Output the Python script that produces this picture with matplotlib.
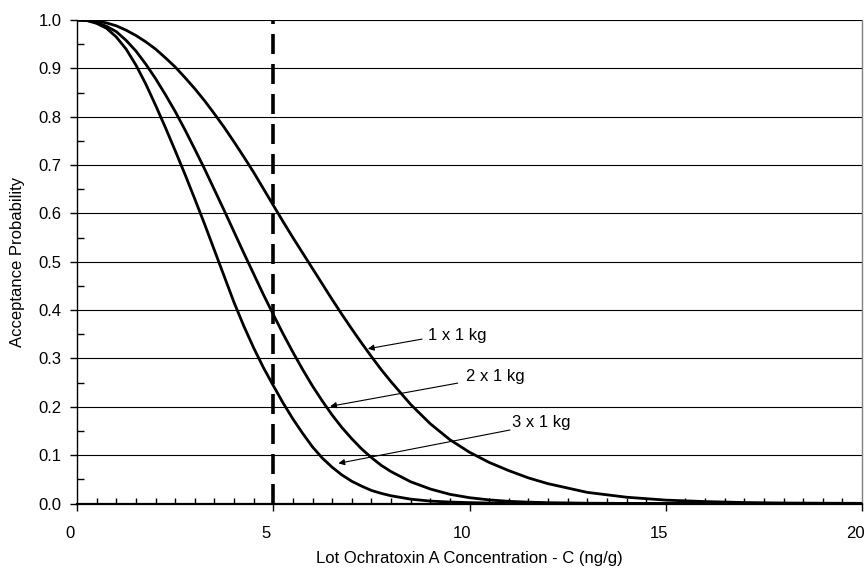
import numpy as np
import matplotlib
matplotlib.use("Agg")
import matplotlib.pyplot as plt
from matplotlib.ticker import MultipleLocator
import matplotlib.transforms as mtransforms

plt.rcParams['font.family'] = ['Liberation Sans', 'DejaVu Sans']

# ---- data ----
conc = [0, 0.25, 0.5, 0.75, 1, 1.25, 1.5, 1.75, 2, 2.25, 2.5, 2.75, 3, 3.25,
        3.5, 3.75, 4, 4.25, 4.5, 4.75, 5, 5.25, 5.5, 5.75, 6, 6.25, 6.5, 6.75,
        7, 7.25, 7.5, 7.75, 8,
        8.5, 9, 9.5, 10, 10.5, 11, 11.5, 12,
        13, 14, 15, 16, 17, 18, 19, 20]
p_1x1kg = [1.0, 0.9995, 0.998, 0.994, 0.988, 0.979, 0.968, 0.955, 0.940, 0.922,
           0.903, 0.881, 0.858, 0.833, 0.806, 0.778, 0.748, 0.717, 0.685, 0.651,
           0.617, 0.583, 0.550, 0.518, 0.486, 0.454, 0.422, 0.391, 0.361, 0.332,
           0.304, 0.277, 0.252,
           0.205, 0.165, 0.132, 0.106, 0.085, 0.068, 0.053, 0.041,
           0.023, 0.013, 0.007, 0.004, 0.002, 0.001, 0.0006, 0.0003]
p_2x1kg = [1.0, 0.999, 0.995, 0.987, 0.976, 0.958, 0.936, 0.909, 0.879, 0.846,
           0.811, 0.773, 0.733, 0.692, 0.649, 0.606, 0.562, 0.518, 0.475, 0.432,
           0.391, 0.351, 0.313, 0.277, 0.243, 0.212, 0.183, 0.157, 0.134, 0.113,
           0.095, 0.079, 0.066,
           0.045, 0.030, 0.019, 0.012, 0.0075, 0.0045, 0.0028, 0.0017,
           0.0006, 0.0002, 0.0001, 0.0, 0.0, 0.0, 0.0, 0.0]
p_3x1kg = [1.0, 0.999, 0.993, 0.983, 0.965, 0.940, 0.907, 0.868, 0.824, 0.778,
           0.730, 0.681, 0.630, 0.578, 0.524, 0.470, 0.416, 0.367, 0.322, 0.281,
           0.244, 0.208, 0.175, 0.145, 0.117, 0.094, 0.075, 0.059, 0.046, 0.036,
           0.027, 0.021, 0.016,
           0.009, 0.005, 0.003, 0.0018, 0.001, 0.0006, 0.0003, 0.0002,
           0.0, 0.0, 0.0, 0.0, 0.0, 0.0, 0.0, 0.0]
regulatory_limit = 5
series_labels = ["1 x 1 kg", "2 x 1 kg", "3 x 1 kg"]
x_ticks = [0, 5, 10, 15, 20]
y_ticks = [0.0, 0.1, 0.2, 0.3, 0.4, 0.5, 0.6, 0.7, 0.8, 0.9, 1.0]

# ---- figure ----
W, H = 865, 569
fig = plt.figure(figsize=(W / 100, H / 100), dpi=100)
ax = fig.add_axes([77 / W, 1 - 503.5 / H, (862 - 77) / W, (503.5 - 20) / H])

ax.set_xlim(0, 20)
ax.set_ylim(0, 1.0)

# gridlines
for yv in y_ticks[1:]:
    ax.axhline(yv, color='black', lw=0.8, zorder=1)

for vals in (p_1x1kg, p_2x1kg, p_3x1kg):
    ax.plot(conc, vals, color='black', lw=2.0, zorder=3,
            solid_capstyle='round', solid_joinstyle='round')

lw_d = 2.6
ax.axvline(regulatory_limit, color='black', lw=lw_d,
           linestyle=(0, (14.4 / lw_d, 7.2 / lw_d)), zorder=4)

# annotations
annots = [
    (series_labels[0], (7.41, 0.320), (8.79, 0.340), (8.94, 0.348)),
    (series_labels[1], (6.45, 0.201), (9.70, 0.249), (9.91, 0.262)),
    (series_labels[2], (6.66, 0.083), (11.03, 0.152), (11.08, 0.168)),
]
for lab, tip, start, tpos in annots:
    ax.annotate('', xy=tip, xytext=start,
                arrowprops=dict(arrowstyle='-|>', color='black', lw=0.8,
                                mutation_scale=9, shrinkA=0, shrinkB=0),
                zorder=5)
    ax.text(tpos[0], tpos[1], lab, fontsize=12, ha='left', va='center', zorder=5)

# spines
ax.spines['top'].set_visible(False)
ax.spines['right'].set_color('#808080')
ax.spines['right'].set_linewidth(1.0)
ax.spines['left'].set_linewidth(1.0)
ax.spines['bottom'].set_linewidth(1.6)

# ticks
ax.set_xticks(x_ticks)
ax.set_xticklabels([str(t) for t in x_ticks])
ax.xaxis.set_minor_locator(MultipleLocator(0.5))
ax.set_yticks(y_ticks)
ax.set_yticklabels([f"{t:.1f}" for t in y_ticks])
ax.yaxis.set_minor_locator(MultipleLocator(0.05))

ax.tick_params(axis='x', which='major', direction='out', length=5, width=1.0,
               pad=11, labelsize=12)
ax.tick_params(axis='x', which='minor', direction='in', length=4, width=1.0)
ax.tick_params(axis='y', which='major', direction='out', length=5, width=1.0,
               pad=6, labelsize=12)
ax.tick_params(axis='y', which='minor', direction='in', length=5, width=1.0)

offset = mtransforms.ScaledTranslation(-7 / 100, 0, fig.dpi_scale_trans)
for lbl in ax.get_xticklabels():
    lbl.set_transform(lbl.get_transform() + offset)

fig.text(469 / W, 1 - 558 / H, "Lot Ochratoxin A Concentration - C (ng/g)",
         ha='center', va='center', fontsize=12)
fig.text(18 / W, 1 - 262 / H, "Acceptance Probability",
         ha='center', va='center', rotation=90, fontsize=12)

fig.savefig("out.png", dpi=100)
